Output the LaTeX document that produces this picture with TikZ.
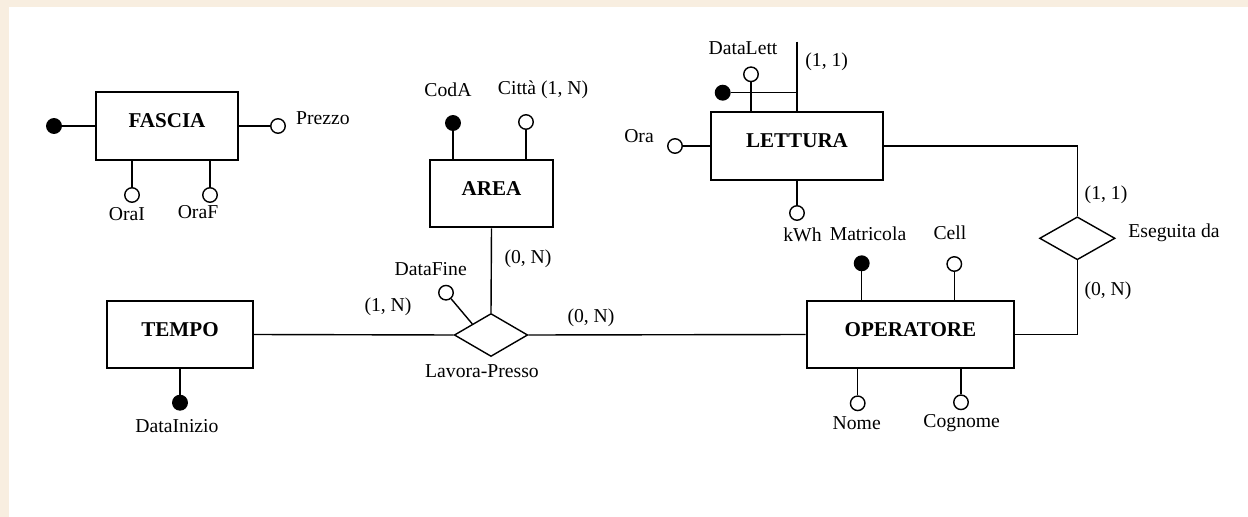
\documentclass[tikz,border=0pt]{standalone}
\usepackage{fontspec}
\setmainfont{Liberation Serif}
\usetikzlibrary{shapes.geometric}
\definecolor{paper}{RGB}{248,238,224}
\tikzset{every picture/.style={x=0.02cm, y=-0.02cm}}
\tikzset{entity/.style={draw, line width=1.1pt, inner sep=0pt, text height=20.3pt,
  text depth=18.2pt, font=\bfseries\fontsize{12}{14}\selectfont}}
\tikzset{relation/.style={diamond, draw, line width=0.8pt, inner sep=0pt,
  minimum width=1.47cm, minimum height=0.86cm}}
\tikzset{attr/.style={circle, draw, line width=0.8pt, fill=white, inner sep=0pt,
  minimum size=0.29cm}}
\tikzset{keyattr/.style={attr, fill=black}}
\tikzset{lbl/.style={font=\fontsize{11.2}{13}\selectfont, inner sep=0pt, anchor=base}}
\tikzset{link/.style={line width=0.8pt}}

\begin{document}
\begin{tikzpicture}
	\fill[paper] (0,0) rectangle (1248,517);
	\fill[white] (9,7) rectangle (1248,517);
	% entities
	\node[entity, minimum width=2.84cm] (FASCIA) at (167,126) {FASCIA};
	\node[entity, minimum width=2.46cm] (AREA) at (491.5,193.5) {AREA};
	\node[entity, minimum width=3.45cm] (LETTURA) at (797,146) {LETTURA};
	\node[entity, minimum width=2.91cm] (TEMPO) at (180,334.5) {TEMPO};
	\node[entity, minimum width=4.15cm] (OPERATORE) at (910.4,334.5) {OPERATORE};
	% relationships
	\node[relation] (lavora) at (491,335) {};
	\node[relation, minimum width=1.51cm] (eseguita) at (1077.3,238.3) {};
	\node[lbl] (lavoraLbl) at (482,377) {Lavora-Presso};
	\node[lbl] (eseguitaLbl) at (1174,237) {Eseguita da};
	\draw[link] (TEMPO.east) -- (lavora.west);
	\draw[link] (lavora.east) -- (OPERATORE.west);
	\draw[link] (AREA.south) -- (lavora.north);
	\draw[link] (LETTURA.east) -| (eseguita.north);
	\draw[link] (OPERATORE.east) -| (eseguita.south);
	\node[lbl] (cTempo) at (388,311) {(1, N)};
	\node[lbl] (cArea) at (528,263) {(0, N)};
	\node[lbl] (cOper) at (591,322) {(0, N)};
	\node[lbl] (cLett) at (1106,199) {(1, 1)};
	\node[lbl] (cOperEs) at (1108,295) {(0, N)};
	% FASCIA
	\node[keyattr] (fasciaKey) at (54,126) {};
	\node[attr] (prezzo) at (278,126) {};
	\node[attr] (oraI) at (132,195) {};
	\node[attr] (oraF) at (210,195) {};
	\draw[link] (fasciaKey) -- (FASCIA.west);
	\draw[link] (FASCIA.east) -- (prezzo);
	\draw[link] (oraI) -- (oraI |- FASCIA.south);
	\draw[link] (oraF) -- (oraF |- FASCIA.south);
	\node[lbl] (prezzoLbl) at (323,125) {Prezzo};
	\node[lbl] (oraILbl) at (127,220) {OraI};
	\node[lbl] (oraFLbl) at (198,218) {OraF};
	% AREA
	\node[keyattr] (codA) at (453,123) {};
	\node[attr] (citta) at (526,122) {};
	\draw[link] (codA) -- (codA |- AREA.north);
	\draw[link] (citta) -- (citta |- AREA.north);
	\node[lbl] (codALbl) at (448,97) {CodA};
	\node[lbl] (cittaLbl) at (543,95) {Città (1, N)};
	% LETTURA
	\node[attr] (ora) at (675,146) {};
	\node[attr] (dataLett) at (751,74.3) {};
	\node[keyattr] (lettKey) at (722.7,92.7) {};
	\node[attr] (kwh) at (797,213) {};
	\coordinate (idTop) at (797,41.7);
	\coordinate (idJoin) at (797,92.7);
	\draw[link] (ora) -- (LETTURA.west);
	\draw[link] (dataLett) -- (dataLett |- LETTURA.north);
	\draw[link] (idTop) -- (LETTURA.north);
	\draw[link] (lettKey) -- (idJoin);
	\draw[link] (LETTURA.south) -- (kwh);
	\node[lbl] (oraLbl) at (639,143) {Ora};
	\node[lbl] (dataLettLbl) at (743,55) {DataLett};
	\node[lbl] (cLettId) at (826.7,67) {(1, 1)};
	\node[lbl] (kwhLbl) at (802.5,241) {kWh};
	% TEMPO
	\node[keyattr] (dataInizio) at (180,402.7) {};
	\draw[link] (TEMPO.south) -- (dataInizio);
	\node[lbl] (dataInizioLbl) at (177,432) {DataInizio};
	\node[attr] (dataFine) at (446,292.7) {};
	\draw[link] (dataFine) -- (lavora.north west);
	\node[lbl] (dataFineLbl) at (430.7,275) {DataFine};
	% OPERATORE
	\node[keyattr] (matricola) at (861.7,263.3) {};
	\node[attr] (cell) at (954.3,264) {};
	\node[attr] (nome) at (857.7,403.3) {};
	\node[attr] (cognome) at (961,402.3) {};
	\draw[link] (matricola) -- (matricola |- OPERATORE.north);
	\draw[link] (cell) -- (cell |- OPERATORE.north);
	\draw[link] (nome) -- (nome |- OPERATORE.south);
	\draw[link] (cognome) -- (cognome |- OPERATORE.south);
	\node[lbl] (matricolaLbl) at (868,240) {Matricola};
	\node[lbl] (cellLbl) at (950,239) {Cell};
	\node[lbl] (nomeLbl) at (856.7,429) {Nome};
	\node[lbl] (cognomeLbl) at (961.7,427) {Cognome};
\end{tikzpicture}
\end{document}
